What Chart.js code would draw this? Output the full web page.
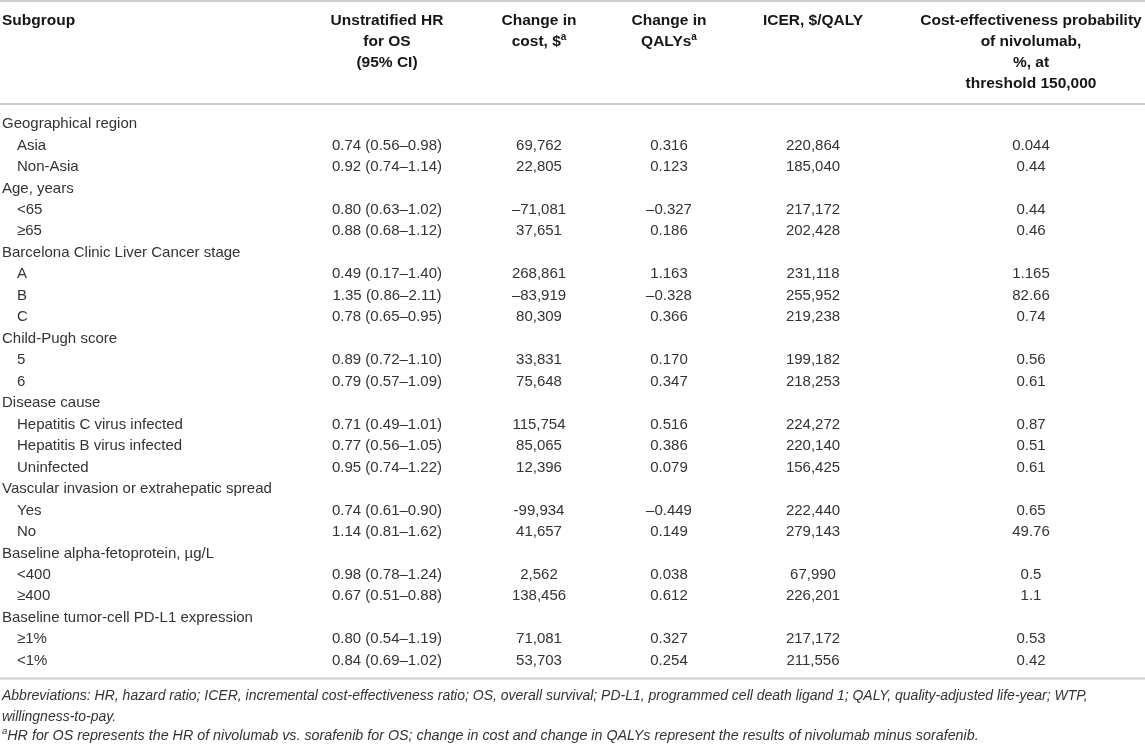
<!DOCTYPE html>
<html><head><meta charset="utf-8">
<script src="https://cdn.jsdelivr.net/npm/chart.js@4.4.1/dist/chart.umd.min.js"></script>
<style>html,body{margin:0;padding:0;background:#fff;overflow:hidden}#wrap{width:1145px;height:745px;position:relative}</style>
</head><body><div id="wrap"><canvas id="c" width="1145" height="745"></canvas></div>
<script>
// ---- Table content ----
const subgroups = [
  "Geographical region","Asia","Non-Asia",
  "Age, years","<65","≥65",
  "Barcelona Clinic Liver Cancer stage","A","B","C",
  "Child-Pugh score","5","6",
  "Disease cause","Hepatitis C virus infected","Hepatitis B virus infected","Uninfected",
  "Vascular invasion or extrahepatic spread","Yes","No",
  "Baseline alpha-fetoprotein, µg/L","<400","≥400",
  "Baseline tumor-cell PD-L1 expression","≥1%","<1%"
];
const indentLevel = [0,1,1, 0,1,1, 0,1,1,1, 0,1,1, 0,1,1,1, 0,1,1, 0,1,1, 0,1,1];
const hrOS = [
  "","0.74 (0.56–0.98)","0.92 (0.74–1.14)",
  "","0.80 (0.63–1.02)","0.88 (0.68–1.12)",
  "","0.49 (0.17–1.40)","1.35 (0.86–2.11)","0.78 (0.65–0.95)",
  "","0.89 (0.72–1.10)","0.79 (0.57–1.09)",
  "","0.71 (0.49–1.01)","0.77 (0.56–1.05)","0.95 (0.74–1.22)",
  "","0.74 (0.61–0.90)","1.14 (0.81–1.62)",
  "","0.98 (0.78–1.24)","0.67 (0.51–0.88)",
  "","0.80 (0.54–1.19)","0.84 (0.69–1.02)"
];
const costChange = [
  "","69,762","22,805",
  "","–71,081","37,651",
  "","268,861","–83,919","80,309",
  "","33,831","75,648",
  "","115,754","85,065","12,396",
  "","-99,934","41,657",
  "","2,562","138,456",
  "","71,081","53,703"
];
const qalyChange = [
  "","0.316","0.123",
  "","–0.327","0.186",
  "","1.163","–0.328","0.366",
  "","0.170","0.347",
  "","0.516","0.386","0.079",
  "","–0.449","0.149",
  "","0.038","0.612",
  "","0.327","0.254"
];
const icerValues = [
  "","220,864","185,040",
  "","217,172","202,428",
  "","231,118","255,952","219,238",
  "","199,182","218,253",
  "","224,272","220,140","156,425",
  "","222,440","279,143",
  "","67,990","226,201",
  "","217,172","211,556"
];
const ceProbability = [
  "","0.044","0.44",
  "","0.44","0.46",
  "","1.165","82.66","0.74",
  "","0.56","0.61",
  "","0.87","0.51","0.61",
  "","0.65","49.76",
  "","0.5","1.1",
  "","0.53","0.42"
];
const columnHeaders = [
  ["Subgroup"],
  ["Unstratified HR","for OS","(95% CI)"],
  ["Change in","cost, $^a"],
  ["Change in","QALYs^a"],
  ["ICER, $/QALY"],
  ["Cost-effectiveness probability","of nivolumab,","%, at","threshold 150,000"]
];
const footnotes = [
  "Abbreviations: HR, hazard ratio; ICER, incremental cost-effectiveness ratio; OS, overall survival; PD-L1, programmed cell death ligand 1; QALY, quality-adjusted life-year; WTP,",
  "willingness-to-pay.",
  "^aHR for OS represents the HR of nivolumab vs. sorafenib for OS; change in cost and change in QALYs represent the results of nivolumab minus sorafenib."
];

// ---- Layout (pixel geometry, kept separate from data) ----
const W = 1145, H = 745;
const ROW0 = 124, PITCH = 21.47;              // first body row centre, row pitch
const colX = [2, 387, 539, 669, 813, 1031];    // column anchors
const INDENT = 15;
const headerLineY = [21, 42, 63, 83.5];
const rulesY = [1, 104, 678.5];
const footY = [696.5, 717, 736.5];
const footSize = [14, 14, 14.3];
const FONT = "'Liberation Sans', Arial, Helvetica, sans-serif";
const bodyColor = "#333333", headColor = "#161616", ruleColor = "#cdcdcd";

// y scale in "row units": value r -> pixel ROW0 + r*PITCH
const yMin = -ROW0 / PITCH, yMax = yMin + H / PITCH;
const toRow = px => (px - ROW0) / PITCH;

const bodyColumns = [subgroups, hrOS, costChange, qalyChange, icerValues, ceProbability];
const datasets = bodyColumns.map((col, c) => ({
  label: columnHeaders[c].join(" "),
  data: col.map((t, i) => ({ x: c === 0 ? colX[0] + indentLevel[i] * INDENT : colX[c], y: i })),
  texts: col,
  pointRadius: 0, pointHoverRadius: 0, showLine: false
}));

function drawRich(ctx, text, x, y, align, font, supFont) {
  const parts = [];
  const re = /\^(\w)/g; let last = 0, m;
  while ((m = re.exec(text))) { if (m.index > last) parts.push([text.slice(last, m.index), false]); parts.push([m[1], true]); last = re.lastIndex; }
  if (last < text.length) parts.push([text.slice(last), false]);
  let total = 0;
  parts.forEach(p => { ctx.font = p[1] ? supFont : font; p.w = ctx.measureText(p[0]).width; total += p.w; });
  let cx = align === "center" ? x - total / 2 : x;
  ctx.textAlign = "left";
  parts.forEach(p => {
    ctx.font = p[1] ? supFont : font;
    ctx.fillText(p[0], cx, p[1] ? y - 5 : y);
    cx += p.w;
  });
}

const tablePlugin = {
  id: "tablePlugin",
  beforeDatasetsDraw(chart) {
    const { ctx, scales: { x, y } } = chart;
    ctx.save();
    ctx.strokeStyle = ruleColor; ctx.lineWidth = 2;
    rulesY.forEach(r => {
      const py = y.getPixelForValue(toRow(r));
      ctx.beginPath(); ctx.moveTo(x.getPixelForValue(0), py); ctx.lineTo(x.getPixelForValue(W), py); ctx.stroke();
    });
    ctx.restore();
  },
  afterDatasetsDraw(chart) {
    const { ctx, scales: { x, y } } = chart;
    ctx.save();
    ctx.textBaseline = "middle";
    // header
    ctx.fillStyle = headColor;
    columnHeaders.forEach((lines, c) => {
      lines.forEach((ln, k) => {
        drawRich(ctx, ln, x.getPixelForValue(colX[c]), y.getPixelForValue(toRow(headerLineY[k])),
          c === 0 ? "left" : "center", "bold 15.5px " + FONT, "bold 10px " + FONT);
      });
    });
    // body cells
    ctx.fillStyle = bodyColor;
    chart.data.datasets.forEach((ds, c) => {
      const meta = chart.getDatasetMeta(c);
      meta.data.forEach((el, i) => {
        const t = ds.texts[i]; if (!t) return;
        drawRich(ctx, t, el.x, el.y, c === 0 ? "left" : "center", "15px " + FONT, "10px " + FONT);
      });
    });
    // footnotes
    footnotes.forEach((f, k) => {
      drawRich(ctx, f, x.getPixelForValue(2), y.getPixelForValue(toRow(footY[k])), "left",
        "italic " + footSize[k] + "px " + FONT, "italic 9.5px " + FONT);
    });
    ctx.restore();
  }
};

new Chart(document.getElementById("c"), {
  type: "scatter",
  data: { datasets },
  options: {
    responsive: false, animation: false, devicePixelRatio: 1,
    layout: { padding: 0 },
    plugins: { legend: { display: false }, tooltip: { enabled: false } },
    events: [],
    scales: {
      x: { type: "linear", display: false, min: 0, max: W },
      y: { type: "linear", display: false, min: yMin, max: yMax, reverse: true }
    }
  },
  plugins: [tablePlugin]
});
</script></body></html>
